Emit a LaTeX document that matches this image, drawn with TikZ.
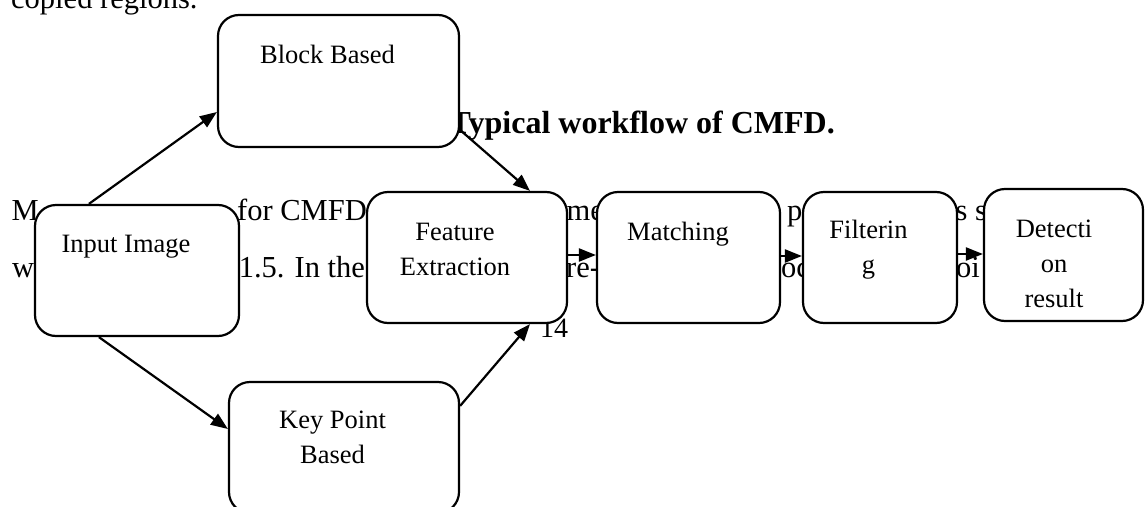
\documentclass[tikz,border=0pt]{standalone}
\usepackage{fontspec}
\setmainfont{Liberation Serif}
\usetikzlibrary{arrows.meta,calc}
\begin{document}
\begin{tikzpicture}[x=1pt,y=-1pt,
  box/.style={draw, line width=2.2pt, rounded corners=21pt, fill=white, inner sep=0pt},
  lbl/.style={anchor=base, inner sep=0pt, font=\fontsize{26.5}{35}\selectfont},
  body/.style={anchor=base west, inner sep=0pt, font=\fontsize{30.5}{36}\selectfont},
  arr/.style={line width=2.2pt, -{Triangle[length=17pt,width=13pt]}},
]
% page area
\fill[white] (0,0) rectangle (1145,506);
\useasboundingbox (0,0) rectangle (1145,506);

% running text of the page behind the figure
\node[body] (t0) at (11,9) {copied regions.};
\node[anchor=base east, inner sep=0pt, font=\fontsize{32}{38}\selectfont\bfseries] (cap) at (835,133) {Typical workflow of CMFD.};
\node[body] (t1) at (11.5,220) {M};
\node[body] (t2) at (237,220) {for CMFD};
\node[body] (t3) at (566.5,220) {me};
\node[body] (t4) at (787,220) {p};
\node[body] (t5) at (955.5,220) {s s};
\node[body] (t6) at (12,277) {w};
\node[body] (t7) at (238.6,277) {1.5. In the};
\node[body] (t8) at (566,277) {re-};
\node[body] (t9) at (781,277) {oc};
\node[body] (t10) at (956,277) {oi};
\node[anchor=base west, inner sep=0pt, font=\fontsize{28}{34}\selectfont] (pg) at (540,337) {14};

% process boxes
\node[box, minimum width=241pt, minimum height=132pt] (blk) at (338.5,81) {};
\node[box, minimum width=204pt, minimum height=131pt] (inp) at (137,270.5) {};
\node[box, minimum width=200pt, minimum height=131pt] (fea) at (467,257.5) {};
\node[box, minimum width=183pt, minimum height=131pt] (mat) at (688.5,257.5) {};
\node[box, minimum width=154pt, minimum height=131pt] (fil) at (880,257.5) {};
\node[box, minimum width=159pt, minimum height=132pt] (det) at (1063.5,255) {};
\node[box, minimum width=230pt, minimum height=131pt] (kp) at (344,447.5) {};

% box captions
\node[lbl] (blkL) at (327.5,63) {Block Based};
\node[lbl] (inpL) at (126,252) {Input Image};
\node[lbl] (feaL) at (455,240) {\begin{tabular}[t]{@{}c@{}}Feature\\Extraction\end{tabular}};
\node[lbl] (matL) at (678,240) {Matching};
\node[lbl] (filL) at (868.5,238) {\begin{tabular}[t]{@{}c@{}}Filterin\\g\end{tabular}};
\node[lbl] (detL) at (1054,237) {\begin{tabular}[t]{@{}c@{}}Detecti\\on\\result\end{tabular}};
\node[lbl] (kpL) at (332.5,428) {\begin{tabular}[t]{@{}c@{}}Key Point\\Based\end{tabular}};

% connectors
\draw[arr] ($(inp.north west)+(55,0)$) -- ($(blk.west)+(0,31)$);
\draw[arr] ($(inp.south west)+(65,0)$) -- ($(kp.west)+(0,-18.5)$);
\draw[arr] ($(blk.east)+(0,49)$) -- ($(fea.north)+(63,0)$);
\draw[arr] ($(kp.north east)+(0,25)$) -- ($(fea.south)+(63,0)$);
\draw[arr] ($(fea.east)+(0,-2.5)$) coordinate (a1) -- (a1 -| mat.west);
\draw[arr] ($(mat.east)+(0,-1.5)$) coordinate (a2) -- (a2 -| fil.west);
\draw[arr] ($(fil.east)+(0,-3.5)$) coordinate (a3) -- (a3 -| det.west);
\end{tikzpicture}
\end{document}
